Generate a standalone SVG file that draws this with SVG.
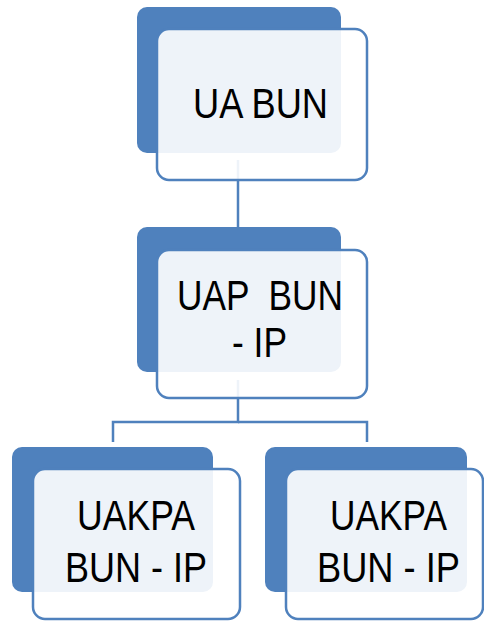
<svg xmlns="http://www.w3.org/2000/svg" width="484" height="621" viewBox="0 0 484 621">
<style>
.back{fill:#4F81BD;}
.front{fill:#FFFFFF;fill-opacity:0.9;stroke:#4F81BD;stroke-width:2.5;}
.lbl{font-family:"Liberation Sans","Open Sans",sans-serif;font-size:42px;fill:#000000;white-space:pre;}
.conn{fill:none;stroke:#4F81BD;stroke-width:2.5;}
</style>
<rect width="484" height="621" fill="#FFFFFF"/>
<g id="connectors">
<line class="conn" x1="238" y1="160" x2="238" y2="250"/>
<polyline class="conn" points="238,380 238,422 113,422 113,442"/>
<polyline class="conn" points="238,422 367,422 367,442"/>
</g>
<g id="node-ua-bun">
<rect class="back" x="137" y="7" width="204" height="146" rx="10"/>
<rect class="front" x="157" y="29" width="210" height="151" rx="12"/>
<text class="lbl" x="193" y="118" textLength="135" lengthAdjust="spacingAndGlyphs">UA BUN</text>
</g>
<g id="node-uap-bun-ip">
<rect class="back" x="137" y="227" width="204" height="145" rx="10"/>
<rect class="front" x="157" y="250" width="210" height="148" rx="12"/>
<text class="lbl" x="177" y="310" textLength="166" lengthAdjust="spacingAndGlyphs" xml:space="preserve">UAP  BUN</text>
<text class="lbl" x="232" y="357" textLength="55" lengthAdjust="spacingAndGlyphs">- IP</text>
</g>
<g id="node-uakpa-left">
<rect class="back" x="12" y="447" width="201" height="145" rx="10"/>
<rect class="front" x="33" y="469" width="207" height="150" rx="12"/>
<text class="lbl" x="77" y="530" textLength="118" lengthAdjust="spacingAndGlyphs">UAKPA</text>
<text class="lbl" x="65" y="582" textLength="142" lengthAdjust="spacingAndGlyphs">BUN - IP</text>
</g>
<g id="node-uakpa-right">
<rect class="back" x="265" y="447" width="202" height="145" rx="10"/>
<rect class="front" x="286" y="469" width="197" height="150" rx="12"/>
<text class="lbl" x="330" y="530" textLength="117" lengthAdjust="spacingAndGlyphs">UAKPA</text>
<text class="lbl" x="317" y="582" textLength="143" lengthAdjust="spacingAndGlyphs">BUN - IP</text>
</g>
</svg>
